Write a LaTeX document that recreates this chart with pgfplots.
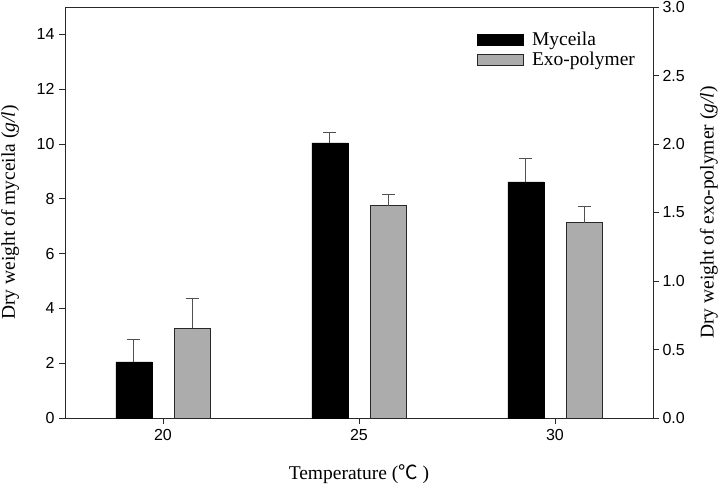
\documentclass[border=0pt]{standalone}
\usepackage{pgfplots}
\pgfplotsset{compat=1.18}
\usepackage{fontspec}
\setmainfont{Liberation Serif}
\setsansfont{Liberation Sans}
\newfontfamily\cjk{Noto Sans CJK SC}
\definecolor{bargray}{RGB}{172,172,172}
\definecolor{errgray}{RGB}{80,80,80}
\definecolor{axgray}{RGB}{40,40,40}
\pgfplotsset{
  common/.style={
    at={(0,0)}, anchor=south west, scale only axis,
    width=588pt, height=411pt,
    xmin=-0.5, xmax=2.5,
    tick align=outside, major tick length=6pt,
    axis line style={axgray, line width=0.9pt},
    every tick/.style={axgray, line width=0.9pt},
    ticklabel style={font=\sffamily\fontsize{16}{16}\selectfont},
    /pgf/number format/assume math mode=true,
    label style={font=\fontsize{19.5}{20}\selectfont},
  }
}
\begin{document}
\begin{tikzpicture}[x=1pt,y=1pt]
\path[use as bounding box] (-65,-70) rectangle (653,418);
\begin{axis}[common,
  ymin=0, ymax=15,
  xtick={0,1,2}, xticklabels={20,25,30},
  ytick={0,2,...,14},
  xtick pos=bottom, ytick pos=left,
  ylabel={Dry weight of myceila (\textit{g/l})},
  xlabel={Temperature ({\cjk ℃} )},
  ylabel style={at={(axis description cs:-0.0935,0.5)}, anchor=center, rotate=0},
  xlabel style={at={(axis description cs:0.5,-0.136)}, anchor=center},
  yticklabel style={xshift=-1pt},
  xticklabel style={yshift=-2pt},
]
\addplot[ybar, bar width=36pt, bar shift=0pt, fill=black, draw=black,
  error bars/.cd, y dir=plus, y explicit,
  error bar style={errgray, line width=1pt},
  error mark options={rotate=90, mark size=6.5pt, errgray, line width=1pt}]
  coordinates {(-0.148,2.05) +- (0,0.80) (0.852,10.04) +- (0,0.38) (1.852,8.62) +- (0,0.85)};
\end{axis}
\begin{axis}[common,
  ymin=0, ymax=3,
  axis x line=none,
  axis y line*=right,
  ytick={0,0.5,...,3.0},
  yticklabel style={/pgf/number format/.cd, fixed, fixed zerofill, precision=1},
  ylabel={Dry weight of exo-polymer (\textit{g/l})},
  ylabel style={at={(axis description cs:1.095,0.5)}, anchor=center, rotate=0},
  legend style={at={(axis description cs:0.7007,0.939)}, anchor=north west,
    draw=none, fill=none, inner sep=0pt, row sep=5pt,
    font=\fontsize{19.5}{20}\selectfont,
    nodes={inner sep=0pt, anchor=west},
    /tikz/every odd column/.append style={column sep=8pt}},
  legend cell align=left,
]
\addlegendimage{legend image code/.code={\filldraw[fill=black,draw=black] (0pt,-5.5pt) rectangle (46pt,5.5pt);}}
\addlegendimage{legend image code/.code={\filldraw[fill=bargray,draw=axgray,line width=0.8pt] (0pt,-5.5pt) rectangle (46pt,5.5pt);}}
\addplot[ybar, bar width=36pt, bar shift=0pt, fill=bargray, draw=axgray, line width=0.8pt, forget plot,
  error bars/.cd, y dir=plus, y explicit,
  error bar style={errgray, line width=1pt},
  error mark options={rotate=90, mark size=6.5pt, errgray, line width=1pt}]
  coordinates {(0.1505,0.655) +- (0,0.215) (1.1505,1.55) +- (0,0.085) (2.1505,1.425) +- (0,0.12)};
\legend{Myceila, Exo-polymer}
\end{axis}
\end{tikzpicture}
\end{document}
